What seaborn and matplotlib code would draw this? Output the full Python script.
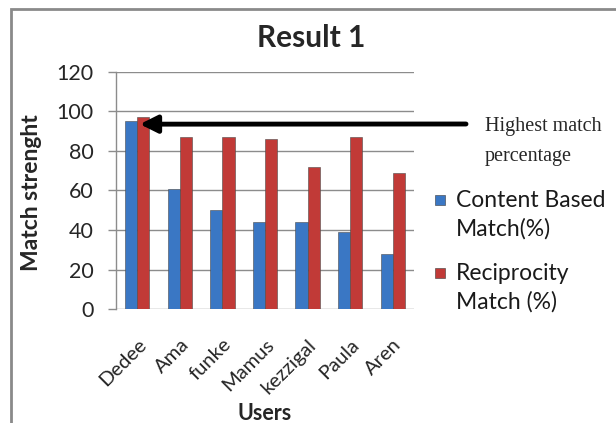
import matplotlib
matplotlib.use("Agg")
import matplotlib.pyplot as plt
import seaborn as sns
import pandas as pd
from matplotlib.patches import Rectangle

users = ["Dedee", "Ama", "funke", "Mamus", "kezzigal", "Paula", "Aren"]
content_based = [95, 61, 50, 44, 44, 39, 28]
reciprocity = [97, 87, 87, 86, 72, 87, 69]
series_names = ["Content Based\nMatch(%)", "Reciprocity\nMatch (%)"]
y_ticks = [0, 20, 40, 60, 80, 100, 120]

df = pd.DataFrame({
    "Users": users * 2,
    "value": content_based + reciprocity,
    "series": [series_names[0]] * len(users) + [series_names[1]] * len(users),
})

sns.set_theme(style="white")
plt.rcParams["font.family"] = ["Lato", "DejaVu Sans"]

W, H = 616, 423
fig = plt.figure(figsize=(W / 100, H / 100), dpi=100)
ax = fig.add_axes([116 / W, 1 - 309.3 / H, 298 / W, 237.6 / H])

colors = ["#3a77c4", "#c13a37"]
palette = dict(zip(series_names, colors))
sns.barplot(data=df, x="Users", y="value", hue="series", palette=palette,
            width=0.57, ax=ax, saturation=1, edgecolor="#4a4a4a", linewidth=0.4,
            zorder=3, legend=False)

ax.set_ylim(0, 120)
ax.set_yticks(y_ticks)
ax.set_yticklabels([str(t) for t in y_ticks], fontsize=15.5)
ax.yaxis.grid(True, color="#8c8c8c", linewidth=1.0, zorder=0)
ax.set_axisbelow(True)
ax.tick_params(axis="y", length=6, color="#8c8c8c", width=1.0, pad=10, left=True)
ax.tick_params(axis="x", length=0, pad=19)
for s in ["top", "right", "bottom"]:
    ax.spines[s].set_visible(False)
ax.spines["left"].set_color("#8c8c8c")
ax.spines["left"].set_linewidth(1.0)
ax.set_xlim(-0.5, len(users) - 0.5)

ax.set_xticks(range(len(users)))
ax.set_xticklabels(users, rotation=45, ha="right", rotation_mode="anchor", fontsize=14.5)
ax.set_xlabel("Users", fontsize=15.5, fontweight="bold")
ax.xaxis.set_label_coords(0.5, -0.394)
ax.set_ylabel("Match strenght", fontsize=16.5, fontweight="bold")
ax.yaxis.set_label_coords(-0.248, 0.49)
fig.text(311 / W, 1 - 47 / H, "Result 1", fontsize=21.5, fontweight="bold",
         ha="center", va="baseline")

# legend (entries aligned on their first line, as in the reference)
leg_y = [200, 273]
for name, col, y0 in zip(series_names, colors, leg_y):
    fig.patches.append(Rectangle((435 / W, 1 - (y0 + 5) / H), 10 / W, 10 / H,
                                 transform=fig.transFigure, facecolor=col,
                                 edgecolor="#3a3a3a", linewidth=0.4))
    for i, line in enumerate(name.split("\n")):
        fig.text(456 / W, 1 - (y0 + 29 * i) / H, line, fontsize=16.5,
                 ha="left", va="center", color="#1a1a1a")

ax.annotate("", xy=(0.06, 93.5), xycoords="data",
            xytext=(466 / W, 1 - 124 / H), textcoords="figure fraction",
            arrowprops=dict(arrowstyle="-|>", color="black", lw=3.5,
                            mutation_scale=26, shrinkA=0, shrinkB=0),
            zorder=5)
fig.text(485 / W, 1 - 127 / H, "Highest match", fontsize=14.5,
         family=["Liberation Serif"], va="center", ha="left")
fig.text(485 / W, 1 - 157 / H, "percentage", fontsize=14.5,
         family=["Liberation Serif"], va="center", ha="left")

fig.patches.append(Rectangle((11 / W, -0.1), 1.1, 1 - 9 / H + 0.1,
                             transform=fig.transFigure, fill=False,
                             edgecolor="#8a8a8a", linewidth=2))

fig.savefig("out.png", dpi=100)
